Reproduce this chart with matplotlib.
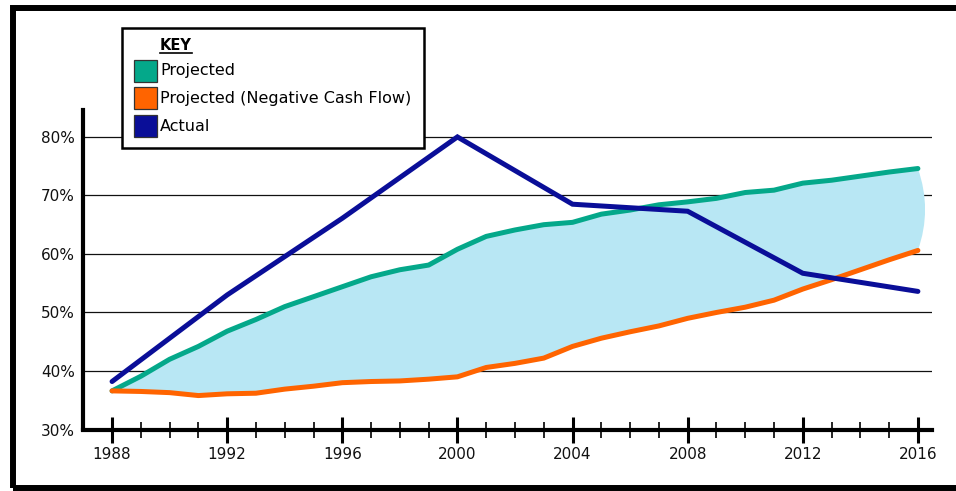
import matplotlib
matplotlib.use("Agg")
import matplotlib.pyplot as plt
from matplotlib.patches import Rectangle, PathPatch
from matplotlib.path import Path
from matplotlib.lines import Line2D
from matplotlib.ticker import FixedLocator, FuncFormatter

# ---- data -----------------------------------------------------------------
years = list(range(1988, 2017))
projected = [36.6, 39.1, 42.0, 44.2, 46.8, 48.8, 51.0, 52.7, 54.4, 56.1,
             57.3, 58.1, 60.8, 63.0, 64.1, 65.0, 65.4, 66.8, 67.5, 68.4,
             68.9, 69.5, 70.5, 70.9, 72.1, 72.6, 73.3, 74.0, 74.6]
projected_neg = [36.6, 36.5, 36.3, 35.8, 36.1, 36.2, 36.9, 37.4, 38.0, 38.2,
                 38.3, 38.6, 39.0, 40.6, 41.3, 42.2, 44.2, 45.6, 46.7, 47.7,
                 49.0, 50.0, 50.9, 52.1, 54.0, 55.6, 57.3, 59.0, 60.6]
actual_years = [1988, 1992, 1996, 2000, 2004, 2008, 2012, 2016]
actual = [38.2, 53.0, 66.1, 80.0, 68.5, 67.3, 56.7, 53.6]

series_labels = ["Projected", "Projected (Negative Cash Flow)", "Actual"]
year_ticks = [1988, 1992, 1996, 2000, 2004, 2008, 2012, 2016]
pct_ticks = [30, 40, 50, 60, 70, 80]

# ---- style ----------------------------------------------------------------
GREEN = "#04a88a"
ORANGE = "#ff6400"
BLUE = "#0a0e98"
FILL = "#b8e7f4"
FONT = "DejaVu Sans"

W, H = 956, 491
fig = plt.figure(figsize=(W / 100, H / 100), dpi=100)
fig.patch.set_facecolor("white")


def fx(px):
    return px / W


def fy(py):
    return 1 - py / H


ax = fig.add_axes([fx(83), fy(429.5), fx(932) - fx(83), fy(110) - fy(429.5)])
ax.set_xlim(1986.99, 2016.49)
ax.set_ylim(30, 84.6)

# band between the two projections, grid behind it
ax.fill_between(years, projected_neg, projected, color=FILL, lw=0, zorder=2)
# rounded closing edge of the band at the last year
x_end = years[-1]
y_top, y_bot = projected[-1], projected_neg[-1]
cap = Path([(x_end, y_top), (x_end + 0.5, (y_top + y_bot) / 2), (x_end, y_bot),
            (x_end, y_top)],
           [Path.MOVETO, Path.CURVE3, Path.CURVE3, Path.CLOSEPOLY])
ax.add_patch(PathPatch(cap, facecolor=FILL, edgecolor="none", zorder=2))

ax.set_yticks(pct_ticks)
ax.yaxis.grid(True, color="#111111", lw=0.9, zorder=1)
ax.set_axisbelow(True)

lw = 3.6
ax.plot(years, projected, color=GREEN, lw=lw, solid_capstyle="round",
        solid_joinstyle="round", zorder=3)
ax.plot(years, projected_neg, color=ORANGE, lw=lw, solid_capstyle="round",
        solid_joinstyle="round", zorder=3)
ax.plot(actual_years, actual, color=BLUE, lw=lw, solid_capstyle="round",
        solid_joinstyle="miter", zorder=4)

# spines
for s in ("top", "right"):
    ax.spines[s].set_visible(False)
for s in ("left", "bottom"):
    ax.spines[s].set_linewidth(3.0)
    ax.spines[s].set_color("black")
    ax.spines[s].set_zorder(5)

# ticks
ax.set_xticks(year_ticks)
ax.xaxis.set_minor_locator(FixedLocator([y for y in years if y not in year_ticks]))
ax.tick_params(axis="x", which="major", direction="inout", length=19,
               width=2.2, color="black", pad=3, labelsize=11)
ax.tick_params(axis="x", which="minor", direction="inout", length=12,
               width=1.2, color="black")
ax.tick_params(axis="y", which="both", length=0, pad=6, labelsize=11)
ax.yaxis.set_major_formatter(FuncFormatter(lambda v, p: f"{v:.0f}%"))
for lab in ax.get_xticklabels() + ax.get_yticklabels():
    lab.set_fontfamily(FONT)
    lab.set_color("#111111")

# ---- key box --------------------------------------------------------------
fig.patches.append(Rectangle((fx(122), fy(148)), fx(424) - fx(122),
                             fy(28) - fy(148), transform=fig.transFigure,
                             facecolor="white", edgecolor="black", lw=1.8,
                             zorder=10))
key = fig.text(fx(160), fy(45), "KEY", fontsize=10.5, fontweight="bold",
               family=FONT, va="center", ha="left", zorder=11)
fig.canvas.draw()
bb = key.get_window_extent()
fig.add_artist(Line2D([bb.x0 / W, bb.x1 / W], [fy(53), fy(53)],
                      transform=fig.transFigure, color="black", lw=1.2,
                      zorder=11))
row_y = [71, 98, 126]
for label, color, yy in zip(series_labels, [GREEN, ORANGE, BLUE], row_y):
    fig.patches.append(Rectangle((fx(134), fy(yy + 11)), fx(157) - fx(134),
                                 fy(yy - 11) - fy(yy + 11),
                                 transform=fig.transFigure, facecolor=color,
                                 edgecolor="#333333", lw=0.9, zorder=11))
    fig.text(fx(160), fy(yy), label, fontsize=11.5, family=FONT,
             va="center", ha="left", zorder=12)

# ---- outer frame ----------------------------------------------------------
fig.patches.append(Rectangle((fx(12.5), fy(487.5)), fx(990) - fx(12.5),
                             fy(8) - fy(487.5), transform=fig.transFigure,
                             facecolor="none", edgecolor="black", lw=4.3,
                             zorder=20))

fig.savefig("out.png", dpi=100, facecolor="white")
